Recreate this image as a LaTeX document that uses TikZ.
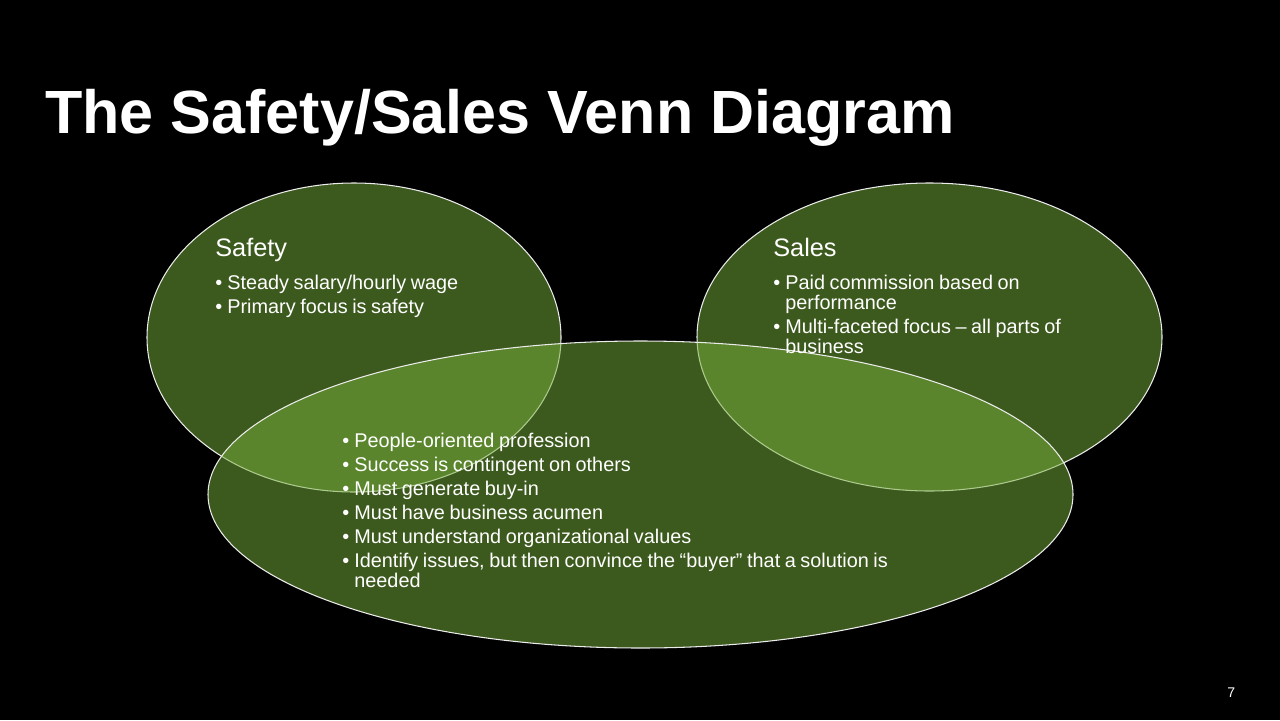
\documentclass[tikz,border=0pt]{standalone}
\usepackage{fontspec}
\setmainfont{Liberation Sans}
\definecolor{vennfill}{RGB}{117,173,58}
\tikzset{
  venn/.style={fill=vennfill, fill opacity=0.52, draw=white!92!black, line width=0.6pt},
  heading/.style={text=white, anchor=base west, inner sep=0pt, font=\fontsize{14.4}{17}\selectfont},
  itemlist/.style={text=white, anchor=base west, inner sep=0pt, text width=#1,
    font=\fontsize{11.3}{11.4}\selectfont},
}
\newcommand{\listsetup}{\raggedright\spaceskip=0.23em plus 0.1em\setlength{\parskip}{2.3pt}}
\newcommand{\bitem}[1]{\hangindent=6.83pt\hangafter=1\noindent\makebox[6.83pt][l]{\textbullet}#1\par}
\begin{document}
\begin{tikzpicture}[x=0.02cm, y=-0.02cm]
        % Fondo
        \fill[black] (0,0) rectangle (1280,720);
        \useasboundingbox (0,0) rectangle (1280,720);

        % Titulo
        \node[text=white, anchor=base west, inner sep=0pt, font=\fontsize{34.75}{40}\selectfont\bfseries]
          (title) at (45,133) {The Safety/Sales Venn Diagram};

        % Elipses
        \draw[venn] (354,337.5) ellipse [x radius=207, y radius=154.5];
        \draw[venn] (929.5,337) ellipse [x radius=232.5, y radius=154];
        \draw[venn] (640.5,494.5) ellipse [x radius=432.5, y radius=153.5];

        % Safety
        \node[heading] (safetyhead) at (215,256) {Safety};
        \node[itemlist=200pt] (safetylist) at (215,289) {\listsetup
          \bitem{Steady salary/hourly wage}
          \bitem{Primary focus is safety}};

        % Sales
        \node[heading] (saleshead) at (773,256) {Sales};
        \node[itemlist=200pt] (saleslist) at (773,289) {\listsetup
          \bitem{Paid commission based on\newline performance}
          \bitem{Multi-faceted focus -- all parts of\newline business}};

        % Comun
        \node[itemlist=330pt] (commonlist) at (342,447) {\listsetup
          \bitem{People-oriented profession}
          \bitem{Success is contingent on others}
          \bitem{Must generate buy-in}
          \bitem{Must have business acumen}
          \bitem{Must understand organizational values}
          \bitem{Identify issues, but then convince the “buyer” that a solution is\newline needed}};

        % Pagina
        \node[text=white, anchor=base west, inner sep=0pt, font=\fontsize{8}{9}\selectfont]
          (pagenum) at (1227,697) {7};
    \end{tikzpicture}
\end{document}
